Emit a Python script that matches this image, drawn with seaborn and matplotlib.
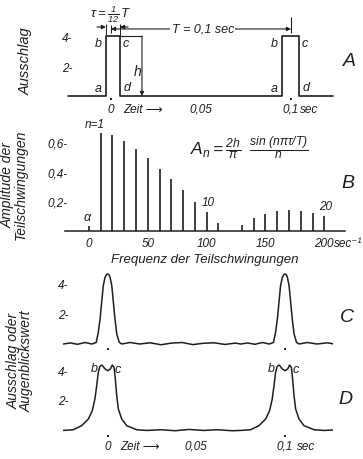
import matplotlib
matplotlib.use("Agg")
import matplotlib.pyplot as plt
import seaborn as sns

# ---- panel A: rectangular pulses ----
pulse_start = [-0.0028, 0.0952]
pulse_end = [0.0050, 0.1044]
pulse_height = 4
t_left, t_right = -0.0239, 0.1233
period = 0.1
h_mark_t = 0.0172

# ---- panel B: amplitudes of the harmonics ----
freqs = [0, 10, 20, 30, 40, 50, 60, 70, 80, 90, 100,
         110, 120, 130, 140, 150, 160, 170, 180, 190, 200]
amps = [0.03, 0.66, 0.645, 0.61, 0.555, 0.49, 0.42, 0.35, 0.275, 0.195, 0.123,
        0.05, 0.0, 0.037, 0.085, 0.112, 0.134, 0.139, 0.134, 0.117, 0.10]
freq_ticks = [0, 50, 100, 150, 200]

# ---- panel C: one period of the synthesised curve (offset from pulse centre) ----
c_off = [-0.025, -0.021, -0.017, -0.0128, -0.0089, -0.0065, -0.0053, -0.0043,
         -0.0034, -0.0025, -0.0015, -0.0007, 0.0, 0.0007, 0.0013, 0.0023,
         0.0032, 0.0041, 0.0051, 0.0065, 0.0080, 0.0126, 0.018, 0.024, 0.030,
         0.036, 0.042, 0.048, 0.054, 0.060, 0.066, 0.072, 0.075]
c_val = [0.0, 0.07, -0.02, 0.1, 0.0, 0.1, 0.78, 1.67, 2.78, 3.89, 4.44, 4.62,
         4.67, 4.62, 4.47, 3.89, 2.78, 1.67, 0.67, 0.11, 0.0, 0.1, 0.0, 0.08,
         -0.05, 0.06, 0.1, -0.04, 0.05, 0.08, -0.03, 0.06, 0.0]

# ---- panel D: same with more harmonics ----
d_off = [-0.025, -0.0194, -0.0147, -0.0109, -0.0087, -0.0072, -0.0062, -0.0053,
         -0.0044, -0.0034, -0.0028, -0.0015, 0.0, 0.0015, 0.0026, 0.0036,
         0.0043, 0.0051, 0.0060, 0.0079, 0.0107, 0.0164, 0.022, 0.030, 0.038,
         0.046, 0.054, 0.062, 0.070, 0.075]
d_val = [-0.1, -0.05, 0.23, 0.69, 1.26, 2.07, 2.99, 3.91, 4.32, 4.41, 4.35,
         4.14, 4.02, 4.14, 4.41, 4.25, 3.45, 2.3, 1.38, 0.69, 0.23, -0.05,
         -0.1, -0.05, -0.12, -0.03, -0.1, -0.05, -0.12, -0.1]

time_ticks = [0, 0.05, 0.1]
time_labels = ["0", "0,05", "0,1"]

W, H = 363, 460
ink = "#1e1e1e"
TL, TP = 1.5, 2.0  # time tick length / pad (pt)

sns.set_theme(style="white")
plt.rcParams["font.family"] = ["Liberation Sans", "DejaVu Sans"]
plt.rcParams["font.style"] = "italic"
plt.rcParams["mathtext.fontset"] = "custom"
plt.rcParams["mathtext.rm"] = "Liberation Sans:italic"
plt.rcParams["mathtext.it"] = "Liberation Sans:italic"
plt.rcParams["mathtext.sf"] = "Liberation Sans:italic"
plt.rcParams["text.color"] = ink

fig = plt.figure(figsize=(W / 100, H / 100), dpi=100)


def frame(box, x0, sx, y0, sy):
    # box in pixels (left, right, top, bottom); x0/y0 pixel of data origin
    left, right, top, bottom = box
    ax = fig.add_axes([left / W, 1 - bottom / H, (right - left) / W, (bottom - top) / H])
    ax.set_xlim((left - x0) / sx, (right - x0) / sx)
    ax.set_ylim((y0 - bottom) / sy, (y0 - top) / sy)
    ax.patch.set_alpha(0)
    for s in ax.spines.values():
        s.set_visible(False)
    ax.tick_params(length=0, colors=ink, labelsize=8.5)
    return ax


def time_axis(ax, labels=True, sec_dx=6.5):
    ax.set_xticks(time_ticks)
    ax.set_xticklabels(time_labels if labels else [""] * 3)
    ax.tick_params(axis="x", bottom=True, length=TL, width=1.4, pad=TP, direction="out")
    # no dot under the middle label
    ax.xaxis.get_major_ticks()[1].tick1line.set_visible(False)
    if labels:
        ax.annotate("Zeit \u27f6", xy=(0, 0), xycoords=("data", "axes fraction"),
                    xytext=(9, -(TL + TP)), textcoords="offset points",
                    ha="left", va="top", fontsize=8.5)
        ax.annotate("sec", xy=(period, 0), xycoords=("data", "axes fraction"),
                    xytext=(sec_dx, -(TL + TP)), textcoords="offset points",
                    ha="left", va="top", fontsize=8.5)


def periodic(off, val):
    t = [o + k * period for k in (0, 1) for o in off]
    v = val + val
    return t, v


# ================= A =================
axA = frame((68, 333, 27, 99), 111, 1800, 97, 15)
a_t, a_y = [t_left], [0]
for s, e in zip(pulse_start, pulse_end):
    a_t += [s, s, e, e]
    a_y += [0, pulse_height, pulse_height, 0]
a_t.append(t_right)
a_y.append(0)
sns.lineplot(x=a_t, y=a_y, ax=axA, sort=False, estimator=None, color=ink,
             lw=1.2, clip_on=False)
axA.set(xlabel="", ylabel="")
axA.set_yticks([2, 4])
axA.set_yticklabels(["2-", "4-"])
axA.tick_params(axis="y", pad=-2.9)
time_axis(axA)

arrow = dict(color=ink, lw=0.8, mutation_scale=6, shrinkA=0, shrinkB=0)
yT = 4.47
axA.annotate("", xy=(period, yT), xytext=(0, yT), annotation_clip=False,
             arrowprops=dict(arrowstyle="<|-|>", **arrow))
axA.vlines([0, period], 4.2, [4.75, 5.25], colors=ink, lw=0.8, clip_on=False)
axA.text(0.051, yT, "T = 0,1 sec", ha="center", va="center", fontsize=9,
         bbox=dict(fc="white", ec="none", pad=1))
ytau = 4.6
axA.vlines([pulse_start[0], pulse_end[0]], pulse_height, 4.8, colors=ink, lw=0.7, clip_on=False)
axA.annotate("", xy=(pulse_start[0], ytau), xytext=(pulse_start[0] - 0.005, ytau),
             annotation_clip=False, arrowprops=dict(arrowstyle="-|>", **arrow))
axA.annotate("", xy=(pulse_end[0], ytau), xytext=(pulse_end[0] + 0.0045, ytau),
             annotation_clip=False, arrowprops=dict(arrowstyle="-|>", **arrow))
axA.text(0.0, 5.5, r"$\tau = \frac{1}{12}\,T$", ha="center", va="center", fontsize=9.5)
axA.hlines(pulse_height, pulse_end[0], h_mark_t, colors=ink, lw=0.8)
axA.annotate("", xy=(h_mark_t, 0), xytext=(h_mark_t, pulse_height),
             arrowprops=dict(arrowstyle="-|>", **arrow))
axA.text(h_mark_t - 0.0004, 1.7, "h", ha="right", va="center", fontsize=10)
for s, e in zip(pulse_start, pulse_end):
    kw = dict(textcoords="offset points", fontsize=9, va="center")
    axA.annotate("b", xy=(s, pulse_height), xytext=(-3, -5), ha="right", **kw)
    axA.annotate("c", xy=(e, pulse_height), xytext=(2, -5), ha="left", **kw)
    axA.annotate("a", xy=(s, 0), xytext=(-3, 6), ha="right", **kw)
    axA.annotate("d", xy=(e, 0), xytext=(2.5, 6.5), ha="left", **kw)

# ================= B =================
axB = frame((65, 345, 125, 236), 88.9, 1.177, 231.5, 147.5)
axB.vlines(freqs, 0, amps, colors=ink, lw=1.2)
axB.spines["bottom"].set_visible(True)
axB.spines["bottom"].set_position(("data", 0))
axB.spines["bottom"].set_color(ink)
axB.spines["bottom"].set_linewidth(1.1)
axB.set_xticks(freq_ticks)
axB.set_xticklabels([str(f) for f in freq_ticks])
axB.tick_params(axis="x", pad=4.6)
axB.set_yticks([0.2, 0.4, 0.6])
axB.set_yticklabels(["0,2-", "0,4-", "0,6-"])
axB.tick_params(axis="y", pad=-2.2)
axB.set_xlabel("Frequenz der Teilschwingungen", fontsize=9.5, labelpad=3, color=ink)
axB.annotate("sec\u207b\u00b9", xy=(freqs[-1], 0), xytext=(7, -4.6), textcoords="offset points",
             ha="left", va="top", fontsize=8.5)
axB.annotate("\u03b1", xy=(freqs[0], amps[0]), xytext=(-1, 2), textcoords="offset points",
             ha="center", va="bottom", fontsize=9)
axB.annotate("n=1", xy=(freqs[1], amps[1]), xytext=(-4, 2), textcoords="offset points",
             ha="center", va="bottom", fontsize=8.5)
axB.annotate("10", xy=(freqs[10], amps[10]), xytext=(1, 3), textcoords="offset points",
             ha="center", va="bottom", fontsize=8.5)
axB.annotate("20", xy=(freqs[20], amps[20]), xytext=(1, 3), textcoords="offset points",
             ha="center", va="bottom", fontsize=8.5)
axB.text(86, 0.566, r"$A_n = \frac{2h}{\pi}\;\; \frac{\sin\,(n\pi\tau/T)}{n}$",
         ha="left", va="center", fontsize=12.5)

# ================= C =================
axC = frame((63, 333, 268, 349), 107.7, 1773, 345, 15)
ct, cv = periodic(c_off, c_val)
sns.lineplot(x=ct, y=cv, ax=axC, sort=False, estimator=None, color=ink, lw=1.1)
axC.set(xlabel="", ylabel="")
axC.set_yticks([2, 4])
axC.set_yticklabels(["2-", "4-"])
axC.tick_params(axis="y", pad=-3.6)
time_axis(axC, labels=False)

# ================= D =================
axD = frame((63, 333, 355, 436), 107.7, 1773, 430, 14.5)
dt, dv = periodic(d_off, d_val)
sns.lineplot(x=dt, y=dv, ax=axD, sort=False, estimator=None, color=ink, lw=1.1)
axD.set(xlabel="", ylabel="")
axD.set_yticks([2, 4])
axD.set_yticklabels(["2-", "4-"])
axD.tick_params(axis="y", pad=-3.6)
time_axis(axD, sec_dx=8.5)
for k in (0, period):
    axD.text(k - 0.0077, 4.2, "b", ha="center", va="center", fontsize=9)
    axD.text(k + 0.0058, 4.15, "c", ha="center", va="center", fontsize=9)

# ---- outer labels ----
fig.text(26 / W, 1 - 61 / H, "Ausschlag", rotation=90, ha="center", va="center", fontsize=10.5)
fig.text(14 / W, 1 - 185 / H, "Amplitude der\nTeilschwingungen", rotation=90,
         ha="center", va="center", fontsize=10, linespacing=0.95)
fig.text(20 / W, 1 - 361 / H, "Ausschlag oder\nAugenblickswert", rotation=90,
         ha="center", va="center", fontsize=10, linespacing=0.95)
for letter, (px, py) in zip("ABCD", [(349, 62), (348, 183), (347, 318), (345, 400)]):
    fig.text(px / W, 1 - py / H, letter, ha="center", va="center", fontsize=14)

fig.savefig("out.png", dpi=100, facecolor="white")
